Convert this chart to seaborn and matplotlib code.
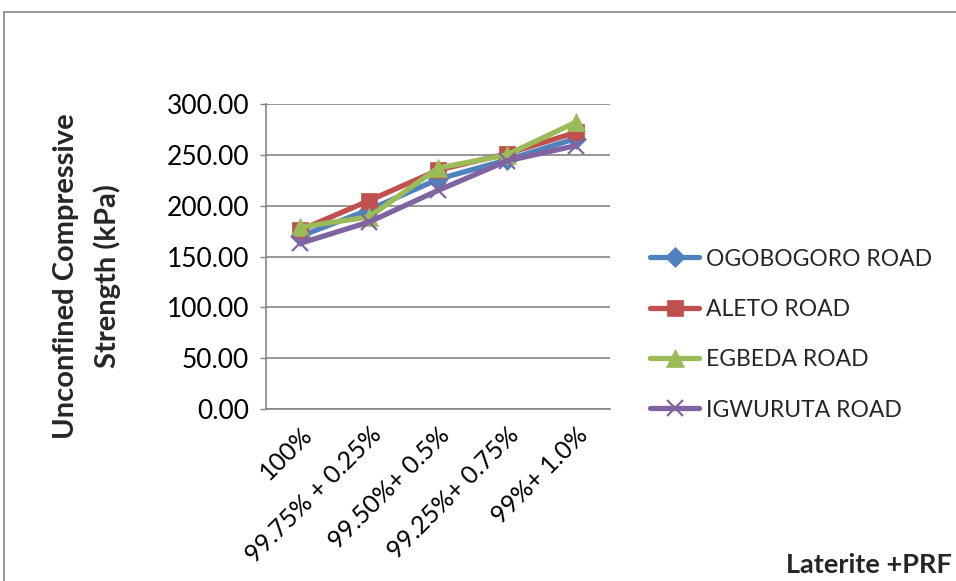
import matplotlib
matplotlib.use("Agg")
import matplotlib.pyplot as plt
from matplotlib.lines import Line2D
import seaborn as sns

# Laterite + PRF mix proportions
mixes = ["100%", "99.75% + 0.25%", "99.50%+ 0.5%", "99.25%+ 0.75%", "99%+ 1.0%"]

# Unconfined compressive strength (kPa) per road
ogobogoro = [170, 196, 226, 245, 266]
aleto = [176, 205, 235, 251, 272]
egbeda = [179, 189, 237, 250, 282]
igwuruta = [163, 184, 215, 244, 259]

road_names = ["OGOBOGORO ROAD", "ALETO ROAD", "EGBEDA ROAD", "IGWURUTA ROAD"]
y_ticks = [0, 50, 100, 150, 200, 250, 300]

sns.set_theme(style="white")
plt.rcParams["font.family"] = ["Lato", "DejaVu Sans"]

fig = plt.figure(figsize=(9.56, 5.81), dpi=100)
ax = fig.add_axes([0.2782, 0.296, 0.360, 0.525])

series = [
    (ogobogoro, "D", "#4F81BD", 10),
    (aleto, "s", "#C0504D", 12),
    (egbeda, "^", "#9BBB59", 13),
    (igwuruta, "x", "#8064A2", 11),
]
for (vals, mk, col, ms), name in zip(series, road_names):
    sns.lineplot(x=mixes, y=vals, ax=ax, color=col, marker=mk, markersize=ms,
                 markeredgecolor=col, markeredgewidth=1.6 if mk == "x" else 0.5,
                 linewidth=3.8, label=name, sort=False)

grid_col = "#868686"
ax.set_ylim(0, 300)
ax.set_xlim(-0.5, len(mixes) - 0.5)
ax.set_yticks(y_ticks)
ax.set_yticklabels([f"{v:.2f}" for v in y_ticks])
ax.yaxis.grid(True, color=grid_col, linewidth=1.2)
ax.xaxis.grid(False)
ax.set_axisbelow(True)
for s in ["top", "right"]:
    ax.spines[s].set_visible(False)
for s in ["left", "bottom"]:
    ax.spines[s].set_color(grid_col)
    ax.spines[s].set_linewidth(1.2)
ax.tick_params(axis="y", left=True, length=4, width=1.0, color=grid_col,
               labelsize=19, pad=8, labelcolor="black")
ax.tick_params(axis="x", bottom=False, labelsize=18, pad=4, labelcolor="black")
plt.setp(ax.get_xticklabels(), rotation=45, ha="right", rotation_mode="anchor")
ax.set_xlabel("")
ax.set_ylabel("")

handles, labels = ax.get_legend_handles_labels()
ax.get_legend().remove()
fig.legend(handles, labels, loc="upper left", bbox_to_anchor=(0.668, 0.592),
           frameon=False, fontsize=16.5, handlelength=2.15, handletextpad=0.3,
           labelspacing=1.28, borderpad=0)

fig.text(87 / 956, 1 - 276 / 581, "Unconfined Compressive\nStrength (kPa)",
         rotation=90, ha="center", va="center", fontsize=21,
         fontweight="bold", multialignment="center", linespacing=1.65)
fig.text(952 / 956, 1 - 565 / 581, "Laterite +PRF", ha="right", va="center",
         fontsize=19.5, fontweight="bold")

# outer chart-area frame
fig.add_artist(Line2D([4 / 956, 1.0], [1 - 12 / 581] * 2, transform=fig.transFigure,
                      color=grid_col, linewidth=1.2))
fig.add_artist(Line2D([4 / 956] * 2, [0.0, 1 - 12 / 581], transform=fig.transFigure,
                      color=grid_col, linewidth=1.2))

fig.savefig("out.png", dpi=100, facecolor="white")
